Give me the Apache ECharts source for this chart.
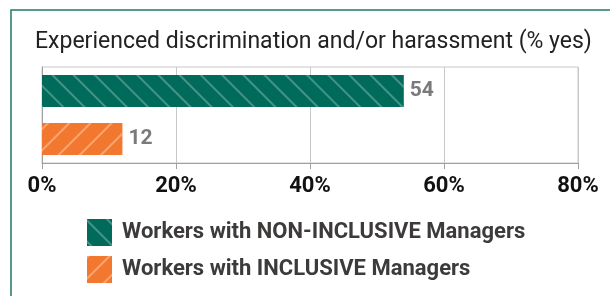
<!DOCTYPE html>
<html>
<head>
    <meta charset="utf-8"/>
    <title>Discrimination by manager type</title>
    <script src="https://cdn.jsdelivr.net/npm/echarts@6/dist/echarts.min.js"></script>
    <style>
        html, body { margin: 0; padding: 0; background: #fff; }
        #chart { width: 610px; height: 296px; }
    </style>
</head>
<body>
<div id="chart"></div>
<script>
    // data
    var categories = ['Workers with NON-INCLUSIVE Managers', 'Workers with INCLUSIVE Managers'];
    var values = [54, 12];
    var colors = ['#006b5b', '#f2772f'];
    var stripeColors = ['rgba(150,195,185,0.45)', 'rgba(255,195,155,0.6)'];
    var xTicks = [0, 20, 40, 60, 80];

    var chart = echarts.init(document.getElementById('chart'));

    // one series per group so the legend gets both entries
    var series = categories.map(function (name, i) {
        var data = categories.map(function (c, j) { return j === i ? values[i] : null; });
        return {
            name: name,
            type: 'bar',
            data: data,
            barWidth: 32,
            barGap: '-100%',
            itemStyle: {
                color: colors[i],
                decal: {
                    symbol: 'rect',
                    symbolSize: 1,
                    rotation: i === 0 ? Math.PI / 4 : -Math.PI / 4,
                    dashArrayX: [1, 0],
                    dashArrayY: [1.5, 12.5],
                    color: stripeColors[i]
                }
            },
            label: {
                show: true,
                position: 'right',
                distance: 6,
                color: '#7a7a7a',
                fontWeight: 'bold',
                fontSize: 21,
                fontFamily: 'Roboto'
            }
        };
    });

    var option = {
        aria: { enabled: true, decal: { show: true } },
        animation: false,
        title: {
            text: 'Experienced discrimination and/or harassment (% yes)',
            left: 30,
            top: 26,
            textStyle: { fontSize: 23, fontWeight: 'normal', color: '#222', fontFamily: 'Roboto' }
        },
        legend: {
            orient: 'vertical',
            left: 82,
            top: 214,
            itemWidth: 25,
            itemHeight: 27,
            itemGap: 10,
            icon: 'rect',
            textStyle: { fontSize: 22, fontWeight: 'bold', color: '#3d3a3a', fontFamily: 'Roboto', padding: [0, 0, 0, 5] }
        },
        grid: {
            left: 42,
            right: 32,
            top: 67,
            height: 96,
            show: true,
            borderColor: '#c8c8c8',
            borderWidth: 1
        },
        xAxis: {
            type: 'value',
            min: xTicks[0],
            max: xTicks[xTicks.length - 1],
            interval: 20,
            axisLine: { show: true, lineStyle: { color: '#a0a0a0' } },
            axisTick: { show: true, length: 6, lineStyle: { color: '#a0a0a0' } },
            splitLine: { lineStyle: { color: '#c8c8c8' } },
            axisLabel: {
                formatter: '{value}%',
                color: '#111',
                fontWeight: 'bold',
                fontSize: 22,
                fontFamily: 'Roboto',
                margin: 12
            }
        },
        yAxis: {
            type: 'category',
            inverse: true,
            data: categories,
            axisLine: { show: true, lineStyle: { color: '#a0a0a0' } },
            axisTick: { show: false },
            axisLabel: { show: false }
        },
        graphic: [{
            type: 'polyline',
            shape: { points: [[11, 300], [11, 10], [615, 10]] },
            style: { stroke: '#1f7a68', lineWidth: 1.5, fill: null }
        }],
        series: series
    };

    chart.setOption(option);
</script>
</body>
</html>
